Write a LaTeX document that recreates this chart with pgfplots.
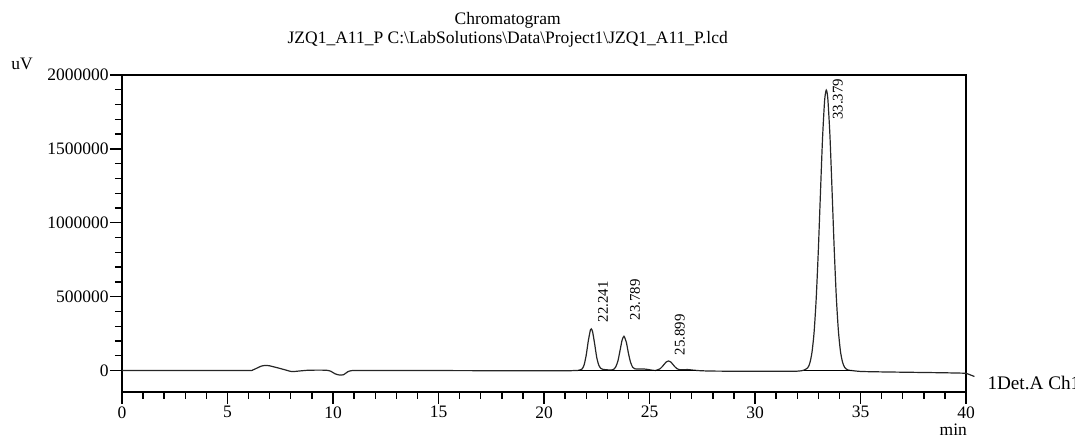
\documentclass[border=0pt]{standalone}
\usepackage{fontspec}
\setmainfont{Liberation Serif}
\usepackage{pgfplots}
\pgfplotsset{compat=1.18}

% 1 px of the reference = 0.5pt
\begin{document}
\begin{tikzpicture}
\begin{axis}[
  name=ax,
  scale only axis,
  width=422pt, height=158.5pt,
  xmin=0, xmax=40,
  ymin=-145000, ymax=2000000,
  xtick={0,5,...,40},
  minor x tick num=4,
  ytick={0,500000,1000000,1500000,2000000},
  minor y tick num=4,
  tick align=outside,
  xtick pos=bottom, ytick pos=left,
  major tick length=6pt, minor tick length=3.5pt,
  every tick/.style={black, line width=0.7pt},
  axis line style={line width=0.7pt},
  scaled ticks=false,
  /pgf/number format/fixed,
  /pgf/number format/1000 sep={},
  /pgf/number format/assume math mode=true,
  tick label style={font=\fontsize{8.75}{10}\selectfont},
  xticklabel style={inner sep=1pt},
  yticklabel style={inner sep=0.5pt},
  clip=false,
]
% chromatogram trace
\addplot[black!85, line width=0.6pt, smooth, tension=0.4] coordinates {
(0,0) (1.5,0) (4,0) (6.0,0) (6.2,4000) (6.4,17000) (6.6,30000) (6.8,35000)
(7.0,32000) (7.2,25000) (7.5,14000) (7.8,2000) (8.05,-7000) (8.4,-3000)
(8.8,2000) (9.3,3000) (9.7,2000) (9.9,-5000) (10.1,-22000) (10.3,-30000)
(10.5,-28000) (10.7,-8000) (10.9,0) (11.5,1000) (12.5,0) (15,0) (18,-1000)
(21,-1000) (21.4,0) (21.6,1000) (21.8,10000) (21.9,38000) (22.0,104000)
(22.1,201000) (22.2,275000) (22.24,282000) (22.3,265000) (22.4,181000)
(22.5,88000) (22.6,35000) (22.7,14000) (22.8,8000) (23.0,5000) (23.2,4000)
(23.3,8000) (23.4,25000) (23.5,63000) (23.6,133000) (23.7,205000)
(23.79,232000) (23.9,193000) (24.0,118000) (24.1,57000) (24.2,23000)
(24.3,12000) (24.5,10000) (24.7,11000) (24.9,8000) (25.1,3000) (25.3,1000)
(25.5,12000) (25.6,26000) (25.7,43000) (25.8,59000) (25.9,65000)
(26.0,59000) (26.1,43000) (26.2,26000) (26.3,13000) (26.4,7000)
(26.6,5000) (26.8,7000) (27.0,4000) (27.3,0) (27.8,-3000) (28.5,-4000)
(30,-5000) (31,-5000) (32,-4000) (32.3,1900) (32.5,19000) (32.6,51000)
(32.7,123000) (32.8,258000) (32.9,485000) (33.0,808000) (33.1,1194000)
(33.2,1569000) (33.3,1829000) (33.379,1898000) (33.45,1842000)
(33.55,1595000) (33.65,1226000) (33.75,838000) (33.85,508000)
(33.95,273000) (34.05,130000) (34.15,56000) (34.25,21000) (34.4,4000)
(34.6,0) (35,-6000) (36,-9000) (37,-11000) (38,-13000) (39,-15000)
(40,-18000)
};
% integration baselines
\addplot[black, line width=0.5pt] coordinates {(21.6,0) (27.2,0)};
\addplot[black, line width=0.5pt] coordinates {(32.3,0) (34.6,0)};
% leader of the channel label
\addplot[black!85, line width=0.6pt] coordinates {(40,-18000) (40.4,-40000)};

% peak labels
\begin{scope}[every node/.style={rotate=90, anchor=west, inner sep=0pt,
    font=\fontsize{7.4}{8}\selectfont}]
\node at (axis cs:22.80,324000) {22.241};
\node at (axis cs:24.31,338000) {23.789};
\node at (axis cs:26.44,101000) {25.899};
\node at (axis cs:33.93,1696000) {33.379};
\end{scope}

% runs past the right edge of the page, as in the reference
\node[overlay, anchor=west, inner sep=0pt, font=\fontsize{9.6}{11}\selectfont]
  at (axis cs:41.0,-81000) {1Det.A Ch1};
\node[font=\fontsize{8.75}{10}\selectfont] at (rel axis cs:-0.1185,1.035) {uV};
\node[font=\fontsize{8.75}{10}\selectfont] at (rel axis cs:0.985,-0.12) {min};
\node[align=center, font=\fontsize{8.75}{9.5}\selectfont]
  at (rel axis cs:0.457,1.143)
  {Chromatogram\\JZQ1\_A11\_P C:\textbackslash LabSolutions\textbackslash Data\textbackslash Project1\textbackslash JZQ1\_A11\_P.lcd};
\end{axis}
\path[use as bounding box] ([shift={(-61pt,-24.5pt)}]ax.south west)
  rectangle ([shift={(476.5pt,196pt)}]ax.south west);
\end{tikzpicture}
\end{document}
